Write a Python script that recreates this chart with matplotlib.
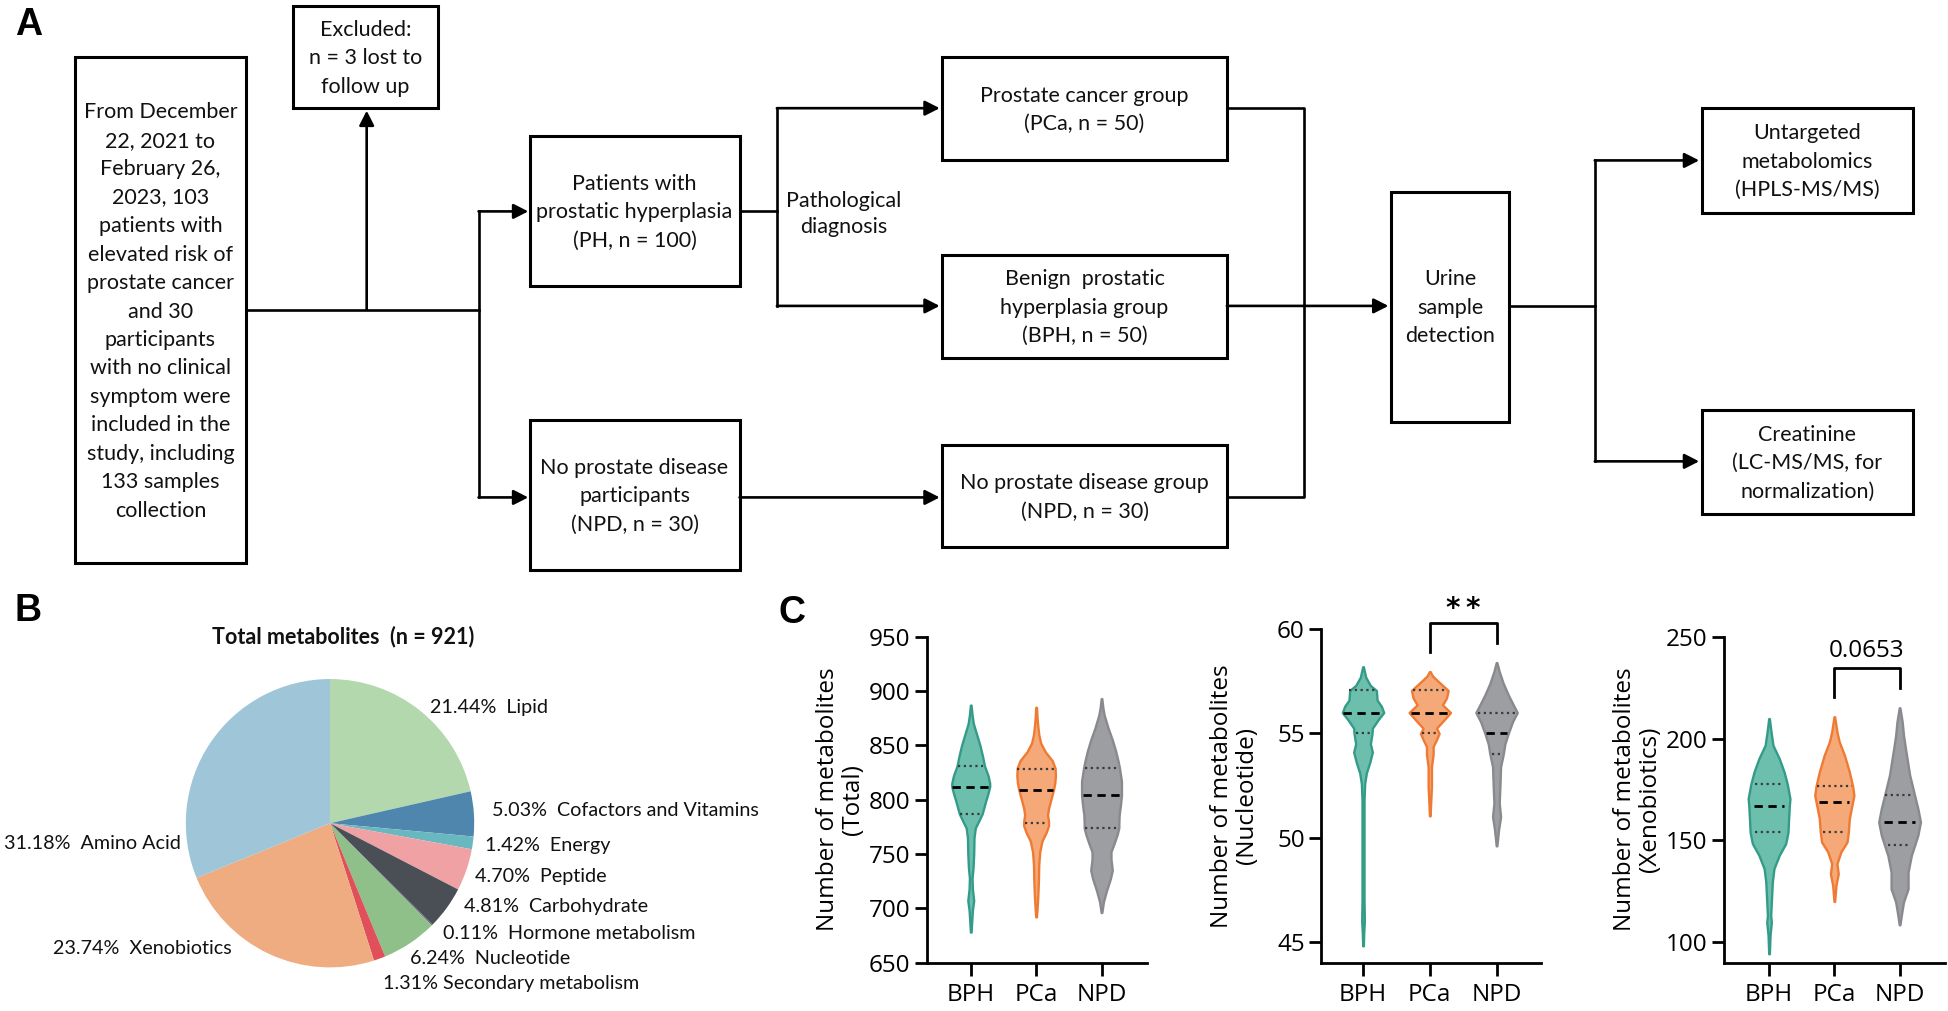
import numpy as np
import matplotlib.pyplot as plt
from matplotlib.patches import Rectangle

# ---------------- data ----------------
# panel B: metabolite classes
pie_names  = ['Lipid', 'Cofactors and Vitamins', 'Energy', 'Peptide',
              'Carbohydrate', 'Hormone metabolism', 'Nucleotide',
              'Secondary metabolism', 'Xenobiotics', 'Amino Acid']
pie_values = [21.44, 5.03, 1.42, 4.70, 4.81, 0.11, 6.24, 1.31, 23.74, 31.18]
pie_colors = ['#b4d8ae', '#4f86ae', '#6ab8bf', '#f0a1a4', '#4a4e55',
              '#5a4a70', '#8fc08a', '#e0505a', '#efac80', '#9fc5d8']

# panel C: groups
groups = ['BPH', 'PCa', 'NPD']
group_fill = ['#6dbfad', '#f5a978', '#9c9ea2']
group_edge = ['#349b88', '#ef7a33', '#888a8e']

# violin outlines: values and half-widths (category units)
total_y = [
    [887, 878, 870, 860, 850, 840, 831, 822, 815, 812, 806, 798, 787, 780,
     774, 765, 750, 737, 728, 718, 707, 698, 688, 678],
    [885, 875, 868, 860, 852, 844, 836, 829, 822, 815, 809, 800, 792, 786,
     780, 776, 770, 762, 752, 740, 725, 710, 700, 692],
    [893, 885, 878, 866, 855, 845, 835, 829, 817, 804, 795, 786, 778, 774,
     768, 760, 752, 745, 735, 727, 716, 706, 700, 696]]
total_w = [
    [0.005, 0.02, 0.04, 0.09, 0.14, 0.18, 0.21, 0.265, 0.29, 0.29, 0.265,
     0.225, 0.175, 0.12, 0.07, 0.05, 0.045, 0.035, 0.02, 0.025, 0.045,
     0.025, 0.015, 0.005],
    [0.005, 0.015, 0.025, 0.04, 0.07, 0.14, 0.245, 0.29, 0.295, 0.285,
     0.265, 0.225, 0.19, 0.175, 0.19, 0.19, 0.155, 0.09, 0.055, 0.04,
     0.035, 0.025, 0.015, 0.005],
    [0.005, 0.02, 0.04, 0.10, 0.165, 0.215, 0.255, 0.275, 0.305, 0.305,
     0.29, 0.27, 0.265, 0.265, 0.24, 0.195, 0.145, 0.145, 0.165, 0.135,
     0.075, 0.03, 0.015, 0.005]]
total_q = [[787, 812, 831], [778, 809, 828.5], [774, 804, 829]]
total_qw = [[0.165, 0.28, 0.19], [0.17, 0.255, 0.285], [0.245, 0.29, 0.255]]

nucl_y = [
    [58.2, 57.7, 57.3, 57.06, 56.6, 56.3, 56.0, 55.65, 55.25, 55.0, 54.5,
     54.1, 53.6, 53.1, 52.6, 51.8, 47.0, 46.0, 45.4, 44.8],
    [57.97, 57.76, 57.5, 57.06, 56.7, 56.37, 56.0, 55.6, 55.25, 55.0, 54.7,
     54.37, 54.0, 53.4, 52.45, 51.8, 51.04],
    [58.4, 57.97, 57.4, 56.85, 56.37, 56.0, 55.57, 55.0, 54.5, 54.0, 53.4,
     52.45, 51.65, 51.0, 50.37, 49.6]]
nucl_w = [
    [0.005, 0.04, 0.11, 0.2, 0.21, 0.275, 0.31, 0.225, 0.14, 0.135, 0.11,
     0.14, 0.10, 0.05, 0.025, 0.015, 0.015, 0.02, 0.01, 0.005],
    [0.005, 0.04, 0.125, 0.275, 0.25, 0.19, 0.31, 0.20, 0.10, 0.14, 0.10,
     0.05, 0.05, 0.025, 0.025, 0.015, 0.005],
    [0.005, 0.04, 0.10, 0.175, 0.25, 0.31, 0.24, 0.175, 0.125, 0.10, 0.06,
     0.05, 0.04, 0.06, 0.03, 0.005]]
nucl_q = [[55.0, 56.0, 57.06], [55.0, 56.0, 57.06], [54.0, 55.0, 56.0]]
nucl_qw = [[0.11, 0.30, 0.21], [0.11, 0.28, 0.25], [0.075, 0.16, 0.28]]

xeno_y = [
    [209.8, 203.3, 196.7, 190.2, 183.6, 177.5, 170.5, 166.7, 160.7, 153.9,
     148.4, 142.6, 136.1, 129.5, 119.7, 113.1, 109.8, 103.3, 94.3],
    [210.7, 203.3, 198.4, 191.8, 183.6, 176.7, 172.1, 168.9, 160.7, 154.1,
     149.2, 144.3, 138.5, 133.6, 127.9, 120.0],
    [215.1, 208.2, 201.6, 195.1, 182.0, 172.1, 165.6, 159.0, 152.5, 147.5,
     142.6, 134.4, 126.2, 119.7, 113.9, 108.5]]
xeno_w = [
    [0.005, 0.03, 0.06, 0.155, 0.23, 0.28, 0.32, 0.31, 0.30, 0.29, 0.255,
     0.155, 0.075, 0.05, 0.035, 0.025, 0.035, 0.015, 0.005],
    [0.005, 0.04, 0.075, 0.155, 0.23, 0.28, 0.30, 0.28, 0.23, 0.215, 0.195,
     0.10, 0.04, 0.06, 0.025, 0.005],
    [0.005, 0.04, 0.06, 0.09, 0.155, 0.23, 0.28, 0.32, 0.28, 0.23, 0.18,
     0.13, 0.13, 0.06, 0.03, 0.005]]
xeno_q = [[153.9, 166.7, 177.5], [154.1, 168.9, 176.7], [147.5, 159.0, 172.1]]
xeno_qw = [[0.22, 0.23, 0.22], [0.18, 0.23, 0.27], [0.17, 0.24, 0.22]]

# ---------------- layout ----------------
W, H = 1568, 813          # layout units (reference at reduced scale)
LW = 1.9
FC = 'Lato'
FS = 15.5
LS = 1.53
TXT = '#111111'
CFONT = 'Open Sans'
CFS = 17.5

fig = plt.figure(figsize=(19.49, 10.11), dpi=100)
fig.patch.set_facecolor('white')
ov = fig.add_axes([0, 0, 1, 1])
ov.set_xlim(0, W)
ov.set_ylim(H, 0)
ov.axis('off')


def box(x0, y0, x1, y1, text):
    ov.add_patch(Rectangle((x0, y0), x1 - x0, y1 - y0, fill=False,
                           edgecolor='k', lw=LW + 0.3))
    ov.text((x0 + x1) / 2, (y0 + y1) / 2 + 1, text, ha='center', va='center',
            fontsize=FS, family=FC, color=TXT, linespacing=LS)


def line(xs, ys):
    ov.plot(xs, ys, color='k', lw=LW, solid_capstyle='projecting')


def arrow(x0, y0, x1, y1):
    ov.annotate('', xy=(x1, y1), xytext=(x0, y0),
                arrowprops=dict(arrowstyle='-|>,head_length=0.55,head_width=0.28',
                                lw=LW, color='k', shrinkA=0, shrinkB=0,
                                mutation_scale=16))


# panel labels
for lab, x, y in [('A', 12, 20), ('B', 12, 491), ('C', 626, 493)]:
    ov.text(x, y, lab, fontsize=27, fontweight='bold', family='Liberation Sans',
            va='center', ha='left')

# ---- panel A: flow chart ----
box(60, 46, 198, 453, 'From December\n22, 2021 to\nFebruary 26,\n2023, 103\n'
    'patients with\nelevated risk of\nprostate cancer\nand 30\nparticipants\n'
    'with no clinical\nsymptom were\nincluded in the\nstudy, including\n'
    '133 samples\ncollection')
box(236, 5, 352, 87, 'Excluded:\nn = 3 lost to\nfollow up')
box(426, 109, 595, 230, 'Patients with\nprostatic hyperplasia\n(PH, n = 100)')
box(426, 338, 595, 458, 'No prostate disease\nparticipants\n(NPD, n = 30)')
box(758, 46, 987, 129, 'Prostate cancer group\n(PCa, n = 50)')
box(758, 205, 987, 288, 'Benign  prostatic\nhyperplasia group\n(BPH, n = 50)')
box(758, 358, 987, 440, 'No prostate disease group\n(NPD, n = 30)')
box(1119, 154, 1214, 339, 'Urine\nsample\ndetection')
box(1369, 87, 1539, 171, 'Untargeted\nmetabolomics\n(HPLS-MS/MS)')
box(1369, 330, 1539, 413, 'Creatinine\n(LC-MS/MS, for\nnormalization)')
ov.text(679, 172, 'Pathological\ndiagnosis', ha='center', va='center',
        fontsize=FS, family=FC, color=TXT, linespacing=1.42)

line([198, 385], [249, 249])
arrow(295, 249, 295, 89)
line([385, 385], [170, 400])
arrow(385, 170, 425, 170)
arrow(385, 400, 425, 400)
line([595, 625], [170, 170])
line([625, 625], [87, 246])
arrow(625, 87, 756, 87)
arrow(625, 246, 756, 246)
arrow(595, 400, 756, 400)
line([987, 1049, 1049, 987], [87, 87, 400, 400])
arrow(987, 246, 1117, 246)
line([1214, 1283], [246, 246])
line([1283, 1283], [129, 371])
arrow(1283, 129, 1367, 129)
arrow(1283, 371, 1367, 371)

# ---- panel B: pie ----
cx, cy, r = 265.5, 662, 116
axp = fig.add_axes([(cx - r) / W, 1 - (cy + r) / H, 2 * r / W, 2 * r / H])
axp.pie(pie_values, colors=pie_colors, startangle=90, counterclock=False,
        wedgeprops=dict(linewidth=0))
axp.set_xlim(-1, 1)
axp.set_ylim(-1, 1)

ov.text(276, 512, 'Total metabolites  (n = 921)', ha='center', va='center',
        fontsize=FS, family=FC, fontweight='bold', color=TXT)
label_pos = [(346, 569), (396, 652), (390, 680), (382, 705), (373, 729),
             (356, 751), (330, 771), (308, 791), (43, 763), (3, 678)]
for name, v, (x, y) in zip(pie_names, pie_values, label_pos):
    sep = ' ' if name == 'Secondary metabolism' else '  '
    ov.text(x, y, f'{v:.2f}%{sep}{name}', ha='left', va='center',
            fontsize=14.2, family=FC, color=TXT)


# ---- panel C: violins ----
def pos(x0, top, x1, bottom):
    return [x0 / W, 1 - bottom / H, (x1 - x0) / W, (bottom - top) / H]


def violin_panel(rect, xlim, ylim, yticks, ys, ws, qs, qws, ylabel):
    ax = fig.add_axes(rect)
    for i in range(3):
        y = np.array(ys[i])
        w = np.array(ws[i])
        ax.fill_betweenx(y, i - w, i + w, facecolor=group_fill[i],
                         edgecolor=group_edge[i], lw=1.7, joinstyle='round')
        q1, med, q3 = qs[i]
        w1, wm, w3 = qws[i]
        ax.plot([i - w1, i + w1], [q1, q1], color='#3a3a3a', lw=1.6,
                ls=(0, (1, 1.6)))
        ax.plot([i - w3, i + w3], [q3, q3], color='#3a3a3a', lw=1.6,
                ls=(0, (1, 1.6)))
        ax.plot([i - wm, i + wm], [med, med], color='k', lw=2.0,
                ls=(0, (3, 2)))
    ax.set_xlim(*xlim)
    ax.set_ylim(*ylim)
    ax.set_yticks(yticks)
    ax.set_xticks([0, 1, 2])
    ax.set_xticklabels(groups)
    for s in ['top', 'right']:
        ax.spines[s].set_visible(False)
    for s in ['left', 'bottom']:
        ax.spines[s].set_linewidth(2.0)
    ax.tick_params(direction='out', length=9, width=2.0, labelsize=CFS)
    ax.tick_params(axis='y', pad=3)
    ax.tick_params(axis='x', pad=6)
    for t in ax.get_xticklabels() + ax.get_yticklabels():
        t.set_family(CFONT)
    ax.set_ylabel(ylabel, fontsize=CFS, family=CFONT, linespacing=1.05)
    ax.yaxis.set_label_coords(-50 / (rect[2] * W), 0.5)
    ax.patch.set_alpha(0)
    return ax


ax1 = violin_panel(pos(746, 512, 923, 774), (-0.665, 2.70), (650, 950),
                   [650, 700, 750, 800, 850, 900, 950], total_y, total_w,
                   total_q, total_qw, 'Number of metabolites\n(Total)')
ax2 = violin_panel(pos(1063, 506, 1240, 774), (-0.625, 2.67), (44, 60),
                   [45, 50, 55, 60], nucl_y, nucl_w, nucl_q, nucl_qw,
                   'Number of metabolites\n(Nucleotide)')
ax3 = violin_panel(pos(1387, 512, 1565, 774), (-0.69, 2.70), (90, 250),
                   [100, 150, 200, 250], xeno_y, xeno_w, xeno_q, xeno_qw,
                   'Number of metabolites\n(Xenobiotics)')

# significance brackets
ax2.plot([1, 1, 2, 2], [58.93, 60.32, 60.32, 59.36], color='k', lw=2.0,
         clip_on=False)
ax2.text(1.5, 60.95, '*\u2009*', ha='center', va='center', fontsize=20,
         family='DejaVu Sans', fontweight='bold', clip_on=False)
ax3.plot([1, 1, 2, 2], [220.5, 234.4, 234.4, 224.9], color='k', lw=2.0,
         clip_on=False)
ax3.text(1.5, 243, '0.0653', ha='center', va='center', fontsize=CFS,
         family=CFONT, clip_on=False)

fig.savefig('out.png', dpi=100)
